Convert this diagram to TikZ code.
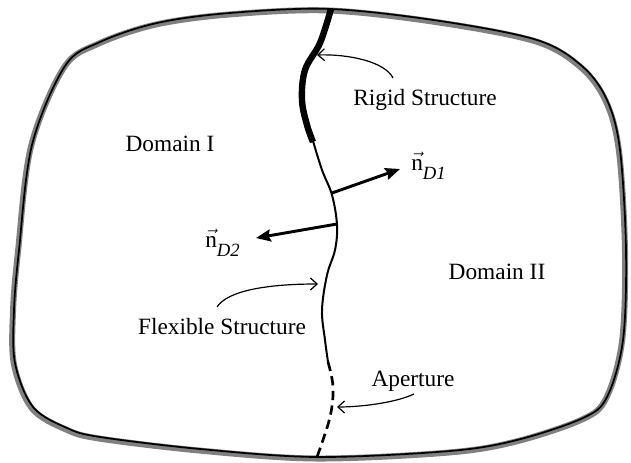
\documentclass[tikz,border=0pt]{standalone}
\usepackage{fontspec}
\setmainfont{Liberation Serif}
\usetikzlibrary{arrows.meta,positioning}

\begin{document}
\begin{tikzpicture}[x=0.75pt,y=-0.75pt,
    lbl/.style={font=\fontsize{17.5}{20}\selectfont,inner sep=0pt},
    note/.style={-{Straight Barb[length=5pt,width=9pt]},line width=0.9pt},
    nrm/.style={-{Stealth[length=11pt,width=9pt,inset=1.5pt]},line width=2.2pt},
    wall/.style={line width=1.3pt}
  ]
    \newcommand\nsub[1]{\(\vec{\mbox{n}}\)\raisebox{-0.4em}{\fontsize{14}{16}\selectfont\textit{#1}}}
    \useasboundingbox (0,0) rectangle (631,463);
    % outer boundary
    \def\rim{(330,9) (440,21) (537,40) (582,66) (607,100) (620,150) (626,250)
      (623,340) (607,397) (583,418) (517,440) (450,451) (317,457) (200,449)
      (100,437) (67,428) (33,407) (15,363) (14,310) (19,250) (32,145)
      (65,66) (100,42) (157,23) (230,13)}
    \draw[gray,line width=4.5pt,shift={(-1,1.5)}] plot[smooth cycle,tension=0.55] coordinates {\rim};
    \draw[wall] plot[smooth cycle,tension=0.55] coordinates {\rim};
    % interface
    \draw[line width=4.8pt] plot[smooth,tension=0.6] coordinates
      {(331,9) (320,43) (305,70) (302,100) (307,125) (313,142)};
    \draw[line width=1.5pt] plot[smooth,tension=0.6] coordinates
      {(313,141) (322,170) (332,195) (337,225) (335,250) (327,275) (322,310) (325,340) (328,362)};
    \draw[line width=2pt,dash pattern=on 7pt off 4pt] plot[smooth,tension=0.6] coordinates
      {(328,362) (333,387) (330,417) (317,457)};
    % labels
    \node[lbl](d1) at (170,144) {Domain I};
    \node[lbl](d2) at (497,272) {Domain II};
    \node[lbl](rig) at (425,100) {Rigid Structure};
    \node[lbl](flx) at (222,327) {Flexible Structure};
    \node[lbl](ape) at (413,381) {Aperture};
    \node[lbl,anchor=west](n1) at (411,166) {\nsub{D1}};
    \node[lbl,anchor=west](n2) at (205,243) {\nsub{D2}};
    % arrows
    \coordinate (rigA) at (393,78);
    \coordinate (rigB) at (317,55);
    \coordinate (flxA) at (217,307);
    \coordinate (flxB) at (318,284);
    \coordinate (apeA) at (414,394);
    \coordinate (apeB) at (337,407);
    \coordinate (n1A) at (332,193);
    \coordinate (n1B) at (400,169);
    \coordinate (n2A) at (337,224);
    \coordinate (n2B) at (256,238);
    \draw[note](rigA) .. controls (385,62) and (350,54) .. (rigB);
    \draw[note](flxA) .. controls (228,290) and (270,284) .. (flxB);
    \draw[note](apeA) .. controls (395,403) and (360,407) .. (apeB);
    \draw[nrm](n1A)--(n1B);
    \draw[nrm](n2A)--(n2B);
\end{tikzpicture}
\end{document}
